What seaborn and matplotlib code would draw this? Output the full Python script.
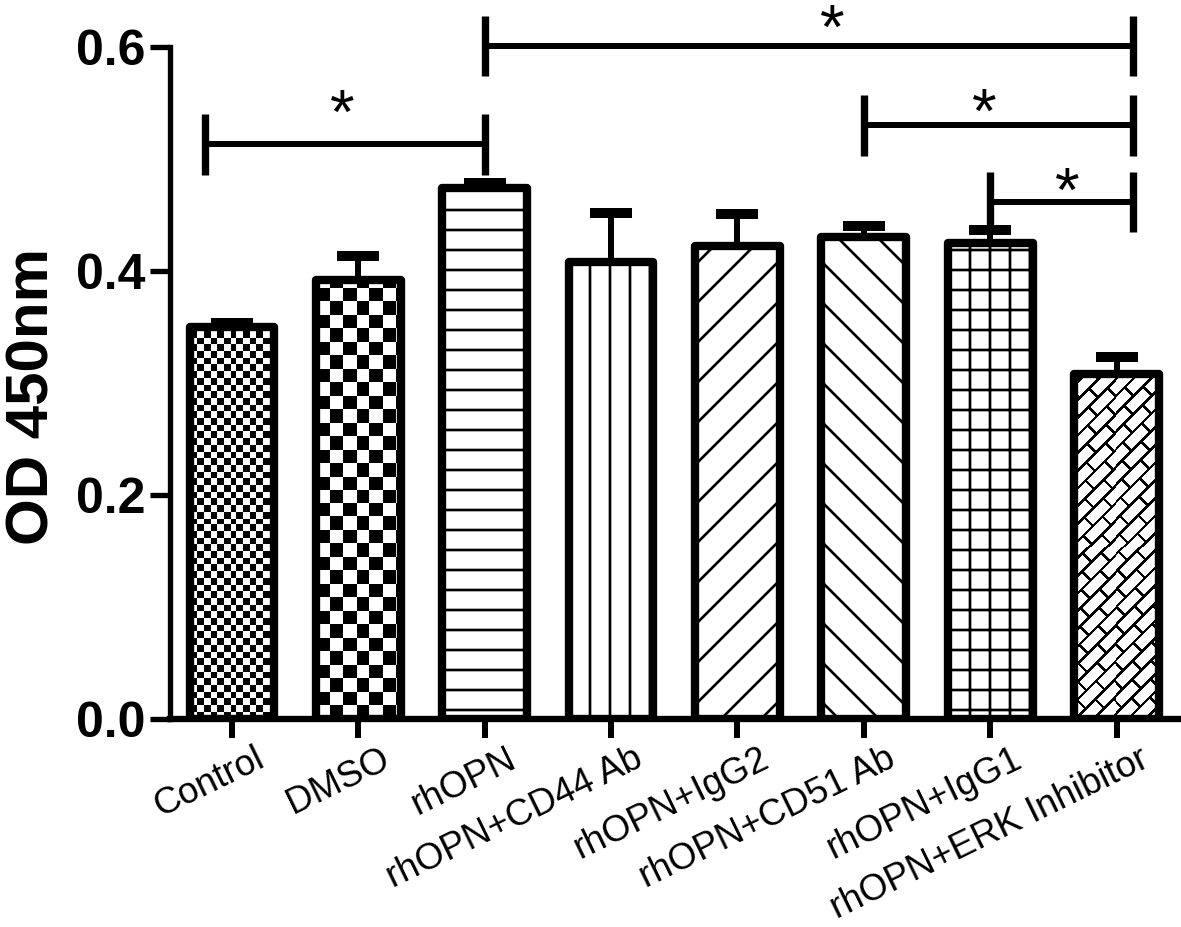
import numpy as np
import pandas as pd
import matplotlib
matplotlib.use("Agg")
import matplotlib.pyplot as plt
import matplotlib.transforms as mtransforms
from matplotlib.colors import ListedColormap
import seaborn as sns

# ---------------- data ----------------
groups = ["Control", "DMSO", "rhOPN", "rhOPN+CD44 Ab", "rhOPN+IgG2",
          "rhOPN+CD51 Ab", "rhOPN+IgG1", "rhOPN+ERK Inhibitor"]
means = [0.350, 0.392, 0.474, 0.408, 0.422, 0.430, 0.425, 0.308]
sems = [0.004, 0.021, 0.005, 0.044, 0.029, 0.010, 0.012, 0.015]
patterns = ["checker_s", "checker_l", "-", "|", "/", "\\", "+", "brick"]

yticks = [0.0, 0.2, 0.4, 0.6]
ytick_labels = ["0.0", "0.2", "0.4", "0.6"]
ylabel = "OD 450nm"

# significance brackets (category positions) and star positions
brk_left = [-0.21, 2, 5, 6]
brk_right = [2, 7.13, 7.13, 7.13]
brk_y = [0.513, 0.601, 0.530, 0.4616]
star_x = [0.87, 4.75, 5.95, 6.61]
star_y = [0.555, 0.631, 0.556, 0.485]
star_text = ["*", "*", "*", "*"]

# ---------------- figure ----------------
DPI = 120
sns.set_theme(style="ticks")
plt.rcParams["font.family"] = ["Liberation Sans", "DejaVu Sans"]
plt.rcParams["hatch.linewidth"] = 1.6
plt.rcParams["hatch.color"] = "black"
for key in ["text.color", "axes.labelcolor", "xtick.color", "ytick.color",
            "axes.edgecolor"]:
    plt.rcParams[key] = "black"

fig = plt.figure(figsize=(1181 / DPI, 927 / DPI), dpi=DPI)
ax = fig.add_axes([170 / 1181, 208 / 927, 1 - 170 / 1181, 719 / 927])

df = pd.DataFrame({"group": groups, "od": means})
sns.barplot(data=df, x="group", y="od", order=groups, width=0.67,
            color="white", edgecolor="black", linewidth=5.0,
            errorbar=None, saturation=1, ax=ax)

ax.set_xlim(-0.49, 7.51)
ax.set_ylim(0, 0.642)

bars = [p for p in ax.patches]


def make_pattern(kind, nx, ny):
    X, Y = np.meshgrid(np.arange(nx), np.arange(ny))
    if kind == "checker_s":
        c = 6.7
        return ((np.floor(X / c) + np.floor(Y / c)) % 2).astype(float)
    if kind == "checker_l":
        c = 13.5
        return ((np.floor(X / c) + np.floor(Y / c)) % 2).astype(float)
    if kind == "brick":
        u = (X + Y) / np.sqrt(2)
        v = (X - Y) / np.sqrt(2)
        P = 12.5
        L = 27.0
        t = 2.6
        lines = (v % P) < t
        k = np.floor(v / P)
        shift = (k % 2) * L / 2
        cross = ((u + shift) % L) < t
        return (lines | cross).astype(float)
    return None


cmap = ListedColormap(["white", "black"])
for bar, pat in zip(bars, patterns):
    bar.set_joinstyle("round")
    if pat in ("checker_s", "checker_l", "brick"):
        x0, y0 = bar.get_x(), bar.get_y()
        x1, y1 = x0 + bar.get_width(), y0 + bar.get_height()
        (px0, py0) = ax.transData.transform((x0, y0))
        (px1, py1) = ax.transData.transform((x1, y1))
        nx, ny = int(abs(px1 - px0)) + 2, int(abs(py1 - py0)) + 2
        arr = make_pattern(pat, nx, ny)
        im = ax.imshow(arr, cmap=cmap, vmin=0, vmax=1, origin="lower",
                       extent=(x0, x1, y0, y1), interpolation="nearest",
                       aspect="auto", zorder=bar.get_zorder() - 0.1)
        im.set_clip_path(bar)
        bar.set_facecolor("none")
    else:
        bar.set_hatch(pat)
ax.set_aspect("auto")
ax.set_xlim(-0.49, 7.51)
ax.set_ylim(0, 0.642)

# error bars (upper only, Prism style)
for i, (m, s) in enumerate(zip(means, sems)):
    ax.plot([i, i], [m, m + s], color="black", lw=3.6, solid_capstyle="butt",
            zorder=1)
    ax.plot([i - 0.166, i + 0.166], [m + s, m + s], color="black", lw=6,
            solid_capstyle="butt", zorder=3)

# significance brackets
for xl, xr, yb in zip(brk_left, brk_right, brk_y):
    ax.plot([xl, xr], [yb, yb], color="black", lw=3.6, solid_capstyle="butt",
            clip_on=False, zorder=4)
    for xe in (xl, xr):
        ax.plot([xe, xe], [yb - 0.027, yb + 0.027], color="black", lw=4.4,
                solid_capstyle="butt", clip_on=False, zorder=4)

star_off = mtransforms.ScaledTranslation(0, -21 / 72, fig.dpi_scale_trans)
for sx, sy, st in zip(star_x, star_y, star_text):
    ax.text(sx, sy, st, fontsize=38, ha="center", va="baseline",
            color="black", transform=ax.transData + star_off,
            clip_on=False, zorder=5)

# axes styling
sns.despine(ax=ax, top=True, right=True)
ax.spines["left"].set_bounds(0, 0.6)
ax.spines["left"].set_linewidth(3.2)
ax.spines["bottom"].set_linewidth(3.8)
ax.spines["left"].set_color("black")
ax.spines["bottom"].set_color("black")
ax.spines["left"].set_zorder(6)
ax.spines["bottom"].set_zorder(6)

ax.set_yticks(yticks)
ax.set_yticklabels(ytick_labels, fontsize=30, fontweight="bold",
                   color="black")
ax.tick_params(axis="y", length=12, width=3.2, pad=3, color="black",
               labelcolor="black")
ax.tick_params(axis="x", length=11.4, width=3.6, pad=2.0, color="black",
               labelcolor="black")

ax.set_xticks(range(len(groups)))
ax.set_xticklabels(groups, fontsize=22, rotation=26, ha="right",
                   rotation_mode="anchor", color="black")
lbl_off = mtransforms.ScaledTranslation(22 / DPI, 0, fig.dpi_scale_trans)
for lab in ax.get_xticklabels():
    lab.set_transform(lab.get_transform() + lbl_off)

ax.set_xlabel("")
ax.set_ylabel(ylabel, fontsize=36, fontweight="bold", color="black")
ax.yaxis.set_label_coords(-0.108, 0.448)

fig.savefig("out.png", dpi=DPI)
